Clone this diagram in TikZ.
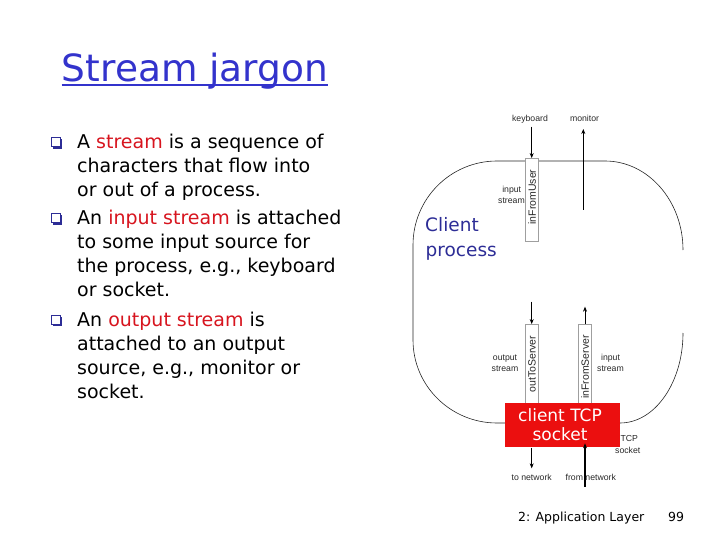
\documentclass[tikz,border=0pt]{standalone}
\usepackage{fontspec}
\setmainfont{DejaVu Sans}
\newfontfamily\labfont{Liberation Sans}
\usetikzlibrary{arrows.meta,calc}
\definecolor{titleblue}{RGB}{51,51,204}
\definecolor{navyblue}{RGB}{45,45,150}
\definecolor{hlred}{RGB}{215,20,30}
\definecolor{sockred}{RGB}{235,15,15}
\definecolor{labgray}{RGB}{40,40,40}
\begin{document}
\begin{tikzpicture}[x=1bp,y=-1bp,
  body/.style={anchor=base west, inner sep=0pt, font=\fontsize{19bp}{23bp}\selectfont},
  lab/.style={anchor=base, inner sep=0pt, font=\labfont\fontsize{8.7bp}{11bp}\selectfont, text=labgray},
  streambox/.style={draw=gray!75, fill=white, line width=0.5bp, minimum width=13.3bp, inner sep=0pt},
  vlab/.style={rotate=90, inner sep=0pt, font=\labfont\fontsize{10.5bp}{12bp}\selectfont, text=labgray},
  outline/.style={line width=0.6bp, black!85},
  arr/.style={-{Stealth[length=5bp,width=4bp]}, line width=0.6bp, black},
  bulletbox/.style={draw=navyblue, line width=0.9bp, minimum size=9bp, inner sep=0pt},
]
\useasboundingbox (0,0) rectangle (720,540);

% ---- title ----
\node[anchor=base west, inner sep=0pt, text=titleblue, font=\fontsize{37.5bp}{44bp}\selectfont] (title) at (61.7,81.7) {Stream jargon};
\draw[titleblue, line width=1.8bp] ($(title.base west)+(0,3.4)$) -- ($(title.base east)+(0,3.4)$);

% ---- bullets ----
\foreach \y/\n in {149/b1, 225/b2, 326/b3}{
  \fill[navyblue] (52.5,\y-2) rectangle (62,\y);
  \fill[navyblue] (60,\y-9.5) rectangle (62,\y);
  \node[bulletbox, anchor=south west] (\n) at (50.8,\y-1.6) {};
}

\node[body] (l1) at (77,149) {A \textcolor{hlred}{stream} is a sequence of};
\node[body] (l2) at (77,173) {characters that flow into};
\node[body] (l3) at (77,196.7) {or out of a process.};
\node[body] (l4) at (77,225) {An \textcolor{hlred}{input stream} is attached};
\node[body] (l5) at (77,248.7) {to some input source for};
\node[body] (l6) at (77,272.3) {the process, e.g., keyboard};
\node[body] (l7) at (77,296) {or socket.};
\node[body] (l8) at (77,326) {An \textcolor{hlred}{output stream} is};
\node[body] (l9) at (77,350) {attached to an output};
\node[body] (l10) at (77,374) {source, e.g., monitor or};
\node[body] (l11) at (77,398) {socket.};

% ---- process outline ----
\draw[outline] (505,423) -- (497,423) .. controls (450.6,423) and (413,385.8) .. (413,340)
  -- (413,245) .. controls (413,198.6) and (450.6,161) .. (497,161)
  -- (605,161) .. controls (648,161) and (683,200.8) .. (683,250);
\draw[outline] (683,333) .. controls (683,382.7) and (654.8,423) .. (620,423);

% ---- client process label ----
\node[anchor=base west, inner sep=0pt, text=navyblue, font=\fontsize{18.5bp}{22bp}\selectfont] (cp1) at (425,231.7) {Client};
\node[anchor=base west, inner sep=0pt, text=navyblue, font=\fontsize{18.5bp}{22bp}\selectfont] (cp2) at (425.5,256.7) {process};

% ---- keyboard / monitor ----
\node[lab] (kb) at (530,122) {keyboard};
\node[lab] (mon) at (584.5,122) {monitor};

\node[streambox, minimum height=83.4bp] (ifu) at (531.7,200) {};
\node[vlab] (ifut) at (532,197) {inFromUser};
\node[lab] (is1a) at (511.7,192.7) {input};
\node[lab] (is1b) at (511.5,204) {stream};

\coordinate (kbfoot) at (531.7,126.7);
\draw[arr] (kbfoot) -- (ifu.north);
\coordinate (monfoot) at (583.3,210);
\coordinate (montip) at (583.3,129);
\draw[arr] (monfoot) -- (montip);

% ---- socket streams ----
\node[streambox, minimum height=79bp] (ots) at (531.7,363.8) {};
\node[vlab] (otst) at (531.9,364) {outToServer};
\node[streambox, minimum height=79bp] (ifs) at (585,363.8) {};
\node[vlab] (ifst) at (585.2,367) {inFromServer};

\node[lab] (os1) at (505,360) {output};
\node[lab] (os2) at (505,371.7) {stream};
\node[lab] (is2a) at (610.5,360) {input};
\node[lab] (is2b) at (610.5,371.7) {stream};

\coordinate (otsin) at (531.7,301.7);
\draw[arr] (otsin) -- (ots.north);
\coordinate (ifsout) at (585,306.7);
\draw[arr] (ifs.north) -- (ifsout);

% ---- TCP socket ----
\node[lab, anchor=base west] (tcp1) at (620.3,441.7) {TCP};
\node[lab, anchor=base west] (tcp2) at (615,453.3) {socket};
\node[fill=sockred, minimum width=115bp, minimum height=44bp, inner sep=0pt] (sock) at (562.5,425.3) {};
\node[anchor=base, inner sep=0pt, text=white, font=\fontsize{17bp}{20bp}\selectfont] (st1) at (560,421.7) {client TCP};
\node[anchor=base, inner sep=0pt, text=white, font=\fontsize{17bp}{20bp}\selectfont] (st2) at (560,440) {socket};

% ---- network ----
\node[lab] (tonet) at (531.7,480) {to network};
\node[lab] (fromnet) at (590.8,480) {from network};
\coordinate (tonettip) at (531.7,468.3);
\draw[arr] (ots.south |- sock.south) -- (tonettip);
\coordinate (fromnetfoot) at (585,486.7);
\coordinate (fromnettip) at (585,443.3);
\draw[arr, line width=1.7bp] (fromnetfoot) -- (fromnettip);

% ---- footer ----
\node[anchor=base west, inner sep=0pt, font=\fontsize{12.5bp}{15bp}\selectfont] (foot) at (518,521.7) {2: Application Layer};
\node[anchor=base west, inner sep=0pt, font=\fontsize{12.5bp}{15bp}\selectfont] (pg) at (668,521.7) {99};
\end{tikzpicture}
\end{document}
